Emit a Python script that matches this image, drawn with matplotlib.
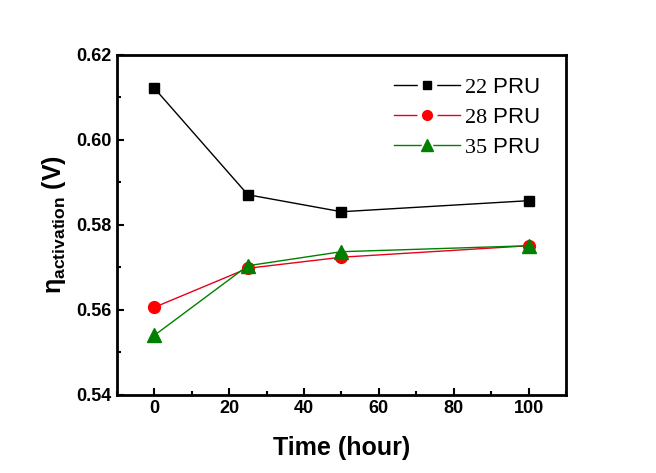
import matplotlib
matplotlib.use("Agg")
import matplotlib.pyplot as plt
from matplotlib.ticker import MultipleLocator
from matplotlib.lines import Line2D
from matplotlib.legend_handler import HandlerTuple

plt.rcParams['font.family'] = ['Liberation Sans', 'DejaVu Sans']
plt.rcParams['mathtext.fontset'] = 'custom'
plt.rcParams['mathtext.rm'] = 'Liberation Serif'
plt.rcParams['mathtext.sf'] = 'Liberation Sans:bold'

time_h = [0, 25, 50, 100]
pru22 = [0.6122, 0.5871, 0.5831, 0.5857]
pru28 = [0.5606, 0.5698, 0.5724, 0.5751]
pru35 = [0.5540, 0.5704, 0.5737, 0.5751]
labels = [r"$\mathrm{22}$ PRU", r"$\mathrm{28}$ PRU", r"$\mathrm{35}$ PRU"]
xticks = [0, 20, 40, 60, 80, 100]
yticks = [0.54, 0.56, 0.58, 0.60, 0.62]

fig = plt.figure(figsize=(6.56, 4.73), dpi=100)
ax = fig.add_axes([0.178, 0.165, 0.685, 0.719])

styles = [
    dict(color='black', marker='s', ms=7.5, mfc='black', mec='black'),
    dict(color='#e8001c', marker='o', ms=8.5, mfc='red', mec='red'),
    dict(color='green', marker='^', ms=9.5, mfc='green', mec='green'),
]
series = [pru22, pru28, pru35]
handles = []
for ys, st in zip(series, styles):
    ax.plot(time_h, ys, lw=1, **st)
    h1 = Line2D([], [], color=st['color'], lw=1, marker=st['marker'],
                ms=st['ms'] + 5, mfc='white', mec='white')
    h2 = Line2D([], [], ls='none', marker=st['marker'], ms=st['ms'] - 1.5,
                mfc=st['mfc'], mec=st['mec'])
    handles.append((h1, h2))

ax.set_xlim(-10, 110)
ax.set_ylim(0.54, 0.62)
ax.set_xticks(xticks)
ax.set_yticks(yticks)
ax.set_yticklabels([f"{v:.2f}" for v in yticks])
ax.xaxis.set_minor_locator(MultipleLocator(10))
ax.yaxis.set_minor_locator(MultipleLocator(0.01))
ax.tick_params(which='both', direction='in', width=1.5, labelsize=13)
ax.tick_params(which='major', length=5)
ax.tick_params(which='minor', length=3)
ax.tick_params(top=False, right=False, which='both')
for lab in ax.get_xticklabels() + ax.get_yticklabels():
    lab.set_fontweight('bold')
for s in ax.spines.values():
    s.set_linewidth(2)

ax.set_xlabel("Time (hour)", fontsize=18, fontweight='bold', labelpad=14)
ax.set_ylabel(r"η$_{\mathsf{activation}}$ (V)", fontsize=18, fontweight='bold', labelpad=6)

leg = ax.legend(handles, labels, handler_map={tuple: HandlerTuple(ndivide=1, pad=0)},
                loc='upper right', frameon=False, fontsize=16, handlelength=3.0,
                handletextpad=0.15, labelspacing=0.42, borderaxespad=0.5,
                bbox_to_anchor=(0.985, 0.995))

fig.savefig("out.png", dpi=100)
